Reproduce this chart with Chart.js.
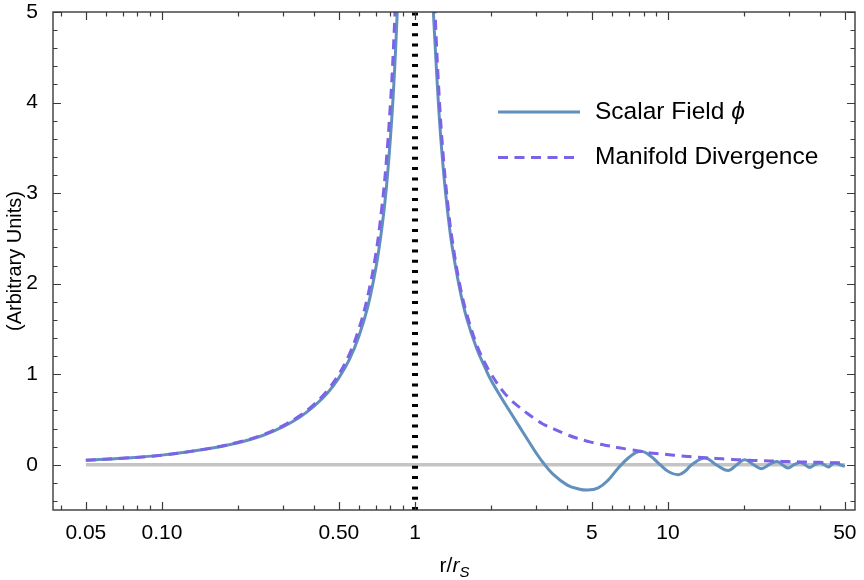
<!DOCTYPE html>
<html>
<head>
<meta charset="utf-8">
<script src="https://cdn.jsdelivr.net/npm/chart.js@4.4.1/dist/chart.umd.min.js"></script>
<style>
  html, body { margin: 0; padding: 0; background: #fff; }
  #wrap { width: 864px; height: 580px; }
</style>
</head>
<body>
<div id="wrap"><canvas id="chart" width="864" height="580"></canvas></div>
<script>
// values (r/r_S on a log axis)
const rLeft = [0.05, 0.07, 0.1, 0.15, 0.2, 0.25, 0.3, 0.35, 0.4, 0.45, 0.5, 0.55, 0.6, 0.65, 0.7, 0.74, 0.77, 0.8, 0.82, 0.84, 0.86, 0.88];
const phiLeft = [0.05, 0.072, 0.106, 0.173, 0.243, 0.323, 0.418, 0.524, 0.65, 0.79, 0.96, 1.16, 1.42, 1.74, 2.17, 2.62, 3.05, 3.62, 4.08, 4.65, 5.35, 6.3];
const divLeft = [0.05, 0.072, 0.106, 0.175, 0.248, 0.33, 0.43, 0.54, 0.67, 0.82, 1.0, 1.22, 1.5, 1.86, 2.33, 2.85, 3.35, 4.0, 4.55, 5.25, 6.1, 7.3];

const rRight = [1.14, 1.17, 1.2, 1.25, 1.3, 1.35, 1.4, 1.5, 1.6, 1.75, 1.9, 2.0, 2.2, 2.4, 2.6, 2.8, 3.0, 3.2, 3.5, 4.0,
  4.4, 4.8, 5.3, 5.8, 6.3, 7.0, 7.75, 8.5, 9.3, 10.1, 11, 11.7, 12.4, 14, 15.5, 17.3, 18.7, 20.1, 21.8, 23.4,
  25.1, 26.9, 28.3, 29.8, 31.5, 33.3, 34.8, 36.3, 38, 39.8, 41.4, 43, 44.3, 45.6, 47.8, 50];
const phiRight = [6.6, 5.3, 4.65, 3.8, 3.2, 2.76, 2.42, 1.95, 1.62, 1.29, 1.06, 0.93, 0.735, 0.565, 0.41, 0.268, 0.137, 0.027, -0.1, -0.225,
  -0.265, -0.28, -0.255, -0.17, -0.05, 0.08, 0.15, 0.1, 0.0, -0.08, -0.11, -0.07, 0.0, 0.074, 0.0, -0.063, 0.0, 0.055, 0.0, -0.044,
  0.0, 0.036, 0.0, -0.036, 0.0, 0.025, 0.0, -0.03, 0.0, 0.019, 0.0, -0.025, 0.0, 0.019, 0.0, -0.018];
const divRight = [7.1, 5.9, 5.0, 4.0, 3.33, 2.86, 2.5, 2.0, 1.67, 1.33, 1.11, 1.0, 0.83, 0.71, 0.63, 0.56, 0.5, 0.45, 0.4, 0.33,
  0.29, 0.26, 0.23, 0.21, 0.19, 0.17, 0.15, 0.13, 0.12, 0.11, 0.10, 0.093, 0.088, 0.077, 0.069, 0.061, 0.056, 0.052, 0.048, 0.045,
  0.042, 0.039, 0.037, 0.035, 0.033, 0.031, 0.030, 0.028, 0.027, 0.026, 0.025, 0.024, 0.023, 0.022, 0.021, 0.02];

const zeroLineR = [0.05, 50];
const poleY = [-0.5, 5];

// axis ticks
const xMajorTicks = [0.05, 0.1, 0.5, 1, 5, 10, 50];
const xMajorLabels = ['0.05', '0.10', '0.50', '1', '5', '10', '50'];
const xMinorTicks = [0.04, 0.06, 0.07, 0.08, 0.09, 0.2, 0.3, 0.4, 0.6, 0.7, 0.8, 0.9, 2, 3, 4, 6, 7, 8, 9, 20, 30, 40];
const yMajorTicks = [0, 1, 2, 3, 4, 5];
const yMinorTicks = [-0.4, -0.2, 0.2, 0.4, 0.6, 0.8, 1.2, 1.4, 1.6, 1.8, 2.2, 2.4, 2.6, 2.8, 3.2, 3.4, 3.6, 3.8, 4.2, 4.4, 4.6, 4.8];

const colors = {
    phi: '#6190bd',
    div: '#7a63e8',
    zero: '#c4c4c4',
    pole: '#000000',
    frame: '#3a3a3a',
    text: '#000000'
};
const FONT = "'Liberation Sans', Arial, 'DejaVu Sans', sans-serif";

const pts = (rs, vs) => rs.map((r, i) => ({ x: r, y: vs[i] }));

// frame with inward ticks on all four sides, legend and axis titles
const framePlugin = {
    id: 'frame',
    afterDatasetsDraw(chart) {
        const { ctx, chartArea: a, scales } = chart;
        const x = scales.x, y = scales.y;
        ctx.save();
        ctx.strokeStyle = colors.frame;
        ctx.lineWidth = 1.4;
        ctx.strokeRect(a.left, a.top, a.right - a.left, a.bottom - a.top);

        ctx.lineWidth = 1.2;
        ctx.beginPath();
        const xTick = (v, len) => {
            const px = Math.round(x.getPixelForValue(v)) + 0.5;
            ctx.moveTo(px, a.bottom); ctx.lineTo(px, a.bottom - len);
            ctx.moveTo(px, a.top); ctx.lineTo(px, a.top + len);
        };
        const yTick = (v, len) => {
            const py = Math.round(y.getPixelForValue(v)) + 0.5;
            ctx.moveTo(a.left, py); ctx.lineTo(a.left + len, py);
            ctx.moveTo(a.right, py); ctx.lineTo(a.right - len, py);
        };
        xMajorTicks.forEach(v => xTick(v, 8));
        xMinorTicks.forEach(v => xTick(v, 4.5));
        yMajorTicks.forEach(v => yTick(v, 8));
        yMinorTicks.forEach(v => yTick(v, 4.5));
        ctx.stroke();
        ctx.restore();
    },
    afterDraw(chart) {
        const { ctx, chartArea: a } = chart;
        ctx.save();

        // legend
        const lx0 = 498, lx1 = 580, tx = 595;
        const rows = [
            { y: 112, color: colors.phi, dash: [], text: 'Scalar Field ', sym: 'ϕ' },
            { y: 157.5, color: colors.div, dash: [10, 6.5], text: 'Manifold Divergence', sym: '' }
        ];
        rows.forEach(row => {
            ctx.strokeStyle = row.color;
            ctx.lineWidth = 3;
            ctx.setLineDash(row.dash);
            ctx.beginPath();
            ctx.moveTo(lx0, row.y);
            ctx.lineTo(lx1, row.y);
            ctx.stroke();
            ctx.setLineDash([]);
            ctx.fillStyle = colors.text;
            ctx.textBaseline = 'middle';
            ctx.textAlign = 'left';
            ctx.font = '24.5px ' + FONT;
            ctx.fillText(row.text, tx, row.y);
            if (row.sym) {
                const w = ctx.measureText(row.text).width;
                ctx.font = 'italic 24.5px ' + FONT;
                ctx.fillText(row.sym, tx + w, row.y);
            }
        });

        // x axis title: r/r_S
        const cx = (a.left + a.right) / 2 + 0.5;
        const ty = 565;
        ctx.font = '21px ' + FONT;
        const w1 = ctx.measureText('r/').width;
        ctx.font = 'italic 21px ' + FONT;
        const w2 = ctx.measureText('r').width;
        ctx.font = 'italic 15px ' + FONT;
        const w3 = ctx.measureText('S').width;
        let sx = cx - (w1 + w2 + w3) / 2;
        ctx.textBaseline = 'alphabetic';
        ctx.textAlign = 'left';
        ctx.font = '21px ' + FONT;
        ctx.fillText('r/', sx, ty + 7);
        sx += w1;
        ctx.font = 'italic 21px ' + FONT;
        ctx.fillText('r', sx, ty + 7);
        sx += w2;
        ctx.font = 'italic 15px ' + FONT;
        ctx.fillText('S', sx, ty + 12);

        // y axis title
        ctx.translate(15, (a.top + a.bottom) / 2);
        ctx.rotate(-Math.PI / 2);
        ctx.font = '20px ' + FONT;
        ctx.textAlign = 'center';
        ctx.textBaseline = 'middle';
        ctx.fillText('(Arbitrary Units)', 0, 0);
        ctx.restore();
    }
};

const ctx = document.getElementById('chart').getContext('2d');
new Chart(ctx, {
    type: 'line',
    data: {
        datasets: [
            {
                label: 'pole',
                data: [{ x: 1, y: poleY[0] }, { x: 1, y: poleY[1] }],
                borderColor: colors.pole,
                borderWidth: 6,
                borderDash: [3, 7.3],
                pointRadius: 0,
                order: 0
            },
            {
                label: 'Manifold Divergence',
                data: [...pts(rLeft, divLeft), { x: 1, y: null }, ...pts(rRight, divRight)],
                borderColor: colors.div,
                borderWidth: 3,
                borderDash: [10, 6.5],
                tension: 0.4,
                pointRadius: 0,
                order: 1
            },
            {
                label: 'Scalar Field ϕ',
                data: [...pts(rLeft, phiLeft), { x: 1, y: null }, ...pts(rRight, phiRight)],
                borderColor: colors.phi,
                borderWidth: 3,
                tension: 0.4,
                pointRadius: 0,
                order: 2
            },
            {
                label: 'zero',
                data: pts(zeroLineR, [0, 0]),
                borderColor: colors.zero,
                borderWidth: 3.5,
                pointRadius: 0,
                order: 3
            }
        ]
    },
    options: {
        responsive: false,
        animation: false,
        devicePixelRatio: 1,
        spanGaps: false,
        layout: { padding: { left: 0, top: 12, right: 9, bottom: 0 } },
        plugins: {
            legend: { display: false },
            tooltip: { enabled: false }
        },
        scales: {
            x: {
                type: 'logarithmic',
                min: 0.03708,
                max: 54.83,
                grid: { display: false },
                border: { display: false },
                afterBuildTicks: s => { s.ticks = xMajorTicks.map(v => ({ value: v })); },
                afterFit: s => { s.height = 70; s.paddingLeft = 0; s.paddingRight = 0; },
                ticks: {
                    autoSkip: false,
                    maxRotation: 0,
                    padding: 3,
                    color: colors.text,
                    font: { family: FONT, size: 21 },
                    callback: (v, i) => xMajorLabels[i]
                }
            },
            y: {
                type: 'linear',
                min: -0.5,
                max: 5,
                grid: { display: false },
                border: { display: false },
                afterBuildTicks: s => { s.ticks = yMajorTicks.map(v => ({ value: v })); },
                afterFit: s => { s.width = 53; s.paddingTop = 0; s.paddingBottom = 0; },
                ticks: {
                    padding: 7,
                    color: colors.text,
                    font: { family: FONT, size: 21 },
                    callback: v => String(v)
                }
            }
        }
    },
    plugins: [framePlugin]
});
</script>
</body>
</html>
